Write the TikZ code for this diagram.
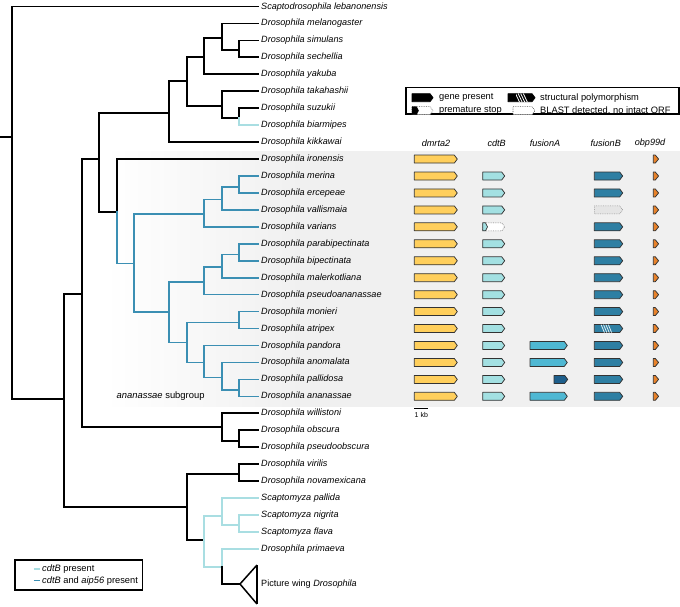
\documentclass[tikz,border=0pt]{standalone}
\usepackage{fontspec}
\setmainfont{Liberation Sans}
\definecolor{bandgray}{RGB}{240,240,240}
\definecolor{cY}{HTML}{FFCF5C}
\definecolor{cC}{HTML}{A3E0E2}
\definecolor{cFA}{HTML}{4FB8D3}
\definecolor{cFB}{HTML}{2E7FA3}
\definecolor{cFD}{HTML}{1E5F8C}
\definecolor{cO}{HTML}{E8822A}
\definecolor{trCy}{HTML}{A9DEE2}
\definecolor{trBl}{HTML}{3B8FB3}
\newcommand\garrow[5][]{%
  \path[garr,fill=#2,#1] (#3,{#5-4}) -- ({#4-3},{#5-4}) -- (#4,#5) -- ({#4-3},{#5+4}) -- (#3,{#5+4}) -- cycle;}
\begin{document}
\begin{tikzpicture}[x=1pt,y=-1pt,
  leaf/.style={anchor=west,inner xsep=3pt,inner ysep=0pt,text height=6.5pt,text depth=1.5pt,font=\fontsize{9.1}{10}\selectfont\itshape},
  hdr/.style={inner sep=0pt,font=\fontsize{9.1}{10}\selectfont\itshape},
  lg/.style={anchor=west,inner sep=0pt,font=\fontsize{9.3}{10}\selectfont},
  bk/.style={draw=black,line width=1.8pt,line cap=rect},
  cy/.style={draw=trCy,line width=1.6pt,line cap=rect},
  bl/.style={draw=trBl,line width=1.6pt,line cap=rect},
  garr/.style={draw=black!80,line width=0.75pt,line join=round}]
\useasboundingbox (0,0) rectangle (680,606);
% shaded band
\fill[left color=white,right color=bandgray] (105,151) rectangle (300.5,406.5);
\fill[bandgray] (300,151) rectangle (680,406.5);
% leaves
\foreach \n [count=\i from 0] in {Scaptodrosophila lebanonensis,Drosophila melanogaster,Drosophila simulans,Drosophila sechellia,Drosophila yakuba,Drosophila takahashii,Drosophila suzukii,Drosophila biarmipes,Drosophila kikkawai,Drosophila ironensis,Drosophila merina,Drosophila ercepeae,Drosophila vallismaia,Drosophila varians,Drosophila parabipectinata,Drosophila bipectinata,Drosophila malerkotliana,Drosophila pseudoananassae,Drosophila monieri,Drosophila atripex,Drosophila pandora,Drosophila anomalata,Drosophila pallidosa,Drosophila ananassae,Drosophila willistoni,Drosophila obscura,Drosophila pseudoobscura,Drosophila virilis,Drosophila novamexicana,Scaptomyza pallida,Scaptomyza nigrita,Scaptomyza flava,Drosophila primaeva}
  {\node[leaf] (l\i) at (258,{6.5+16.95*\i}) {\n};}
% internal nodes
\coordinate (rs) at (0,137);
\coordinate (root) at (12,137);
\coordinate (A) at (64,399);
\coordinate (B) at (82,294);
\coordinate (C) at (99,159);
\coordinate (D) at (169,112.7);
\coordinate (E) at (187,80.7);
\coordinate (F) at (204,56.7);
\coordinate (G) at (222,38.3);
\coordinate (H) at (239,50);
\coordinate (I) at (222,106);
\coordinate (J) at (239,117.7);
\coordinate (K) at (117,212);
\coordinate (L) at (134,263.3);
\coordinate (M) at (204,214);
\coordinate (N) at (222,199.3);
\coordinate (O) at (239,186.7);
\coordinate (P) at (169,311.7);
\coordinate (Q) at (204,281.7);
\coordinate (R) at (222,266.7);
\coordinate (S) at (239,254.3);
\coordinate (T) at (187,342.3);
\coordinate (U) at (239,322.3);
\coordinate (V) at (204,362.3);
\coordinate (W) at (222,377.3);
\coordinate (X) at (239,390);
\coordinate (Y) at (222,426.7);
\coordinate (Z) at (239,440.7);
\coordinate (AA) at (187,507);
\coordinate (AB) at (239,474);
\coordinate (AC) at (204,540);
\coordinate (AD) at (222,515.7);
\coordinate (AE) at (239,525);
\coordinate (AF) at (222,566.7);
\coordinate (apex) at (240,584);
\coordinate (tritop) at (257,565);
\coordinate (tribot) at (257,604);
% branches
\path[bk] (rs) -- (root);
\path[bk] (root) |- (l0.west);  \path[bk] (root) |- (A);
\path[bk] (A) |- (B);  \path[bk] (A) |- (AA);
\path[bk] (B) |- (C);  \path[bk] (B) |- (Y);
\path[bk] (C) |- (D);  \path[bk] (C) |- (K);
\path[bk] (D) |- (E);  \path[bk] (D) |- (l8.west);
\path[bk] (E) |- (F);  \path[bk] (E) |- (I);
\path[bk] (F) |- (G);  \path[bk] (F) |- (l4.west);
\path[bk] (G) |- (l1.west);  \path[bk] (G) |- (H);
\path[bk] (H) |- (l2.west);  \path[bk] (H) |- (l3.west);
\path[bk] (I) |- (l5.west);  \path[bk] (I) |- (J);
\path[bk] (J) |- (l6.west);  \path[cy] (J) |- (l7.west);
\path[bk] (K) |- (l9.west);  \path[bl] (K) |- (L);
\path[bl] (L) |- (M);  \path[bl] (L) |- (P);
\path[bl] (M) |- (N);  \path[bl] (M) |- (l13.west);
\path[bl] (N) |- (O);  \path[bl] (N) |- (l12.west);
\path[bl] (O) |- (l10.west);  \path[bl] (O) |- (l11.west);
\path[bl] (P) |- (Q);  \path[bl] (P) |- (T);
\path[bl] (Q) |- (R);  \path[bl] (Q) |- (l17.west);
\path[bl] (R) |- (S);  \path[bl] (R) |- (l16.west);
\path[bl] (S) |- (l14.west);  \path[bl] (S) |- (l15.west);
\path[bl] (T) |- (U);  \path[bl] (T) |- (V);
\path[bl] (U) |- (l18.west);  \path[bl] (U) |- (l19.west);
\path[bl] (V) |- (l20.west);  \path[bl] (V) |- (W);
\path[bl] (W) |- (l21.west);  \path[bl] (W) |- (X);
\path[bl] (X) |- (l22.west);  \path[bl] (X) |- (l23.west);
\path[bk] (Y) |- (l24.west);  \path[bk] (Y) |- (Z);
\path[bk] (Z) |- (l25.west);  \path[bk] (Z) |- (l26.west);
\path[bk] (AA) |- (AB);  \path[bk] (AA) |- (AC);
\path[bk] (AB) |- (l27.west);  \path[bk] (AB) |- (l28.west);
\path[cy] (AC) |- (AD);  \path[cy] (AC) |- (AF);
\path[cy] (AD) |- (l29.west);  \path[cy] (AD) |- (AE);
\path[cy] (AE) |- (l30.west);  \path[cy] (AE) |- (l31.west);
\path[cy] (AF) |- (l32.west);  \path[bk] (AF) |- (apex);
\draw[line width=1.5pt,line join=miter] (tritop) -- (apex) -- (tribot);
\draw[line width=1.5pt] (tritop) -- (tribot);
\node[leaf,font=\fontsize{9.1}{10}\selectfont] (pw) at (258,584) {Picture wing \textit{Drosophila}};
\node[anchor=west,inner sep=0pt,font=\fontsize{9.4}{10}\selectfont] (sub) at (116.5,396.3) {\textit{ananassae} subgroup};
% column headers
\node[hdr] (h1) at (436,143) {dmrta2};
\node[hdr] (h2) at (496.7,143) {cdtB};
\node[hdr] (h3) at (545,143) {fusionA};
\node[hdr] (h4) at (605.7,143) {fusionB};
\node[hdr] (h5) at (650,143) {obp99d};
% genes
\foreach \y in {159.05,176,192.95,209.9,226.85,243.8,260.75,277.7,294.65,311.6,328.55,345.5,362.45,379.4,396.35}{
  \garrow{cY}{414.3}{457.3}{\y}
  \path[garr,fill=cO] (653.3,{\y-4}) -- (655.3,{\y-4}) -- (658.6,\y) -- (655.3,{\y+4}) -- (653.3,{\y+4}) -- cycle;}
\foreach \y in {176,192.95,209.9,243.8,260.75,277.7,294.65,311.6,328.55,345.5,362.45,379.4,396.35}
  {\garrow{cC}{482.7}{504.7}{\y}}
\foreach \y in {176,192.95,226.85,243.8,260.75,277.7,294.65,311.6,328.55,345.5,362.45,379.4,396.35}
  {\garrow{cFB}{594.3}{622.7}{\y}}
\foreach \y in {345.5,362.45,396.35}
  {\garrow{cFA}{530}{567.3}{\y}}
\garrow{cFD}{554}{567.7}{379.4}
% varians cdtB premature stop
\garrow[draw=black!60,densely dotted,line width=0.55pt]{white}{482.7}{504.7}{226.85}
\path[garr,fill=cC] (482.7,222.85) -- (485.5,222.85) -- (487.5,226.85) -- (485.5,230.85) -- (482.7,230.85) -- cycle;
% vallismaia fusionB BLAST only
\garrow[draw=black!45,densely dotted,line width=0.55pt]{black!10}{594.3}{622.7}{209.9}
% atripex fusionB structural polymorphism
\begin{scope}
  \clip (594.3,324.55) -- (619.7,324.55) -- (622.7,328.55) -- (619.7,332.55) -- (594.3,332.55) -- cycle;
  \foreach \k in {0,1,2,3}{\draw[white!85!cFB,line width=0.8pt] ({601+2.4*\k},324.3) -- ({604.5+2.4*\k},332.8);}
\end{scope}
% scale bar
\draw[line width=1.4pt] (414.3,408.3) -- (428.3,408.3);
\node[inner sep=0pt,font=\fontsize{7}{8}\selectfont] (kb) at (421.3,414.5) {1 kb};
% top-right legend
\draw[line width=1.1pt,fill=white] (406,87.3) rectangle (679,114);
\garrow[draw=black]{black}{412}{433}{97.7}
\node[lg] (t1) at (439,97.7) {gene present};
\garrow[draw=black]{black}{508}{535}{97.7}
\begin{scope}
  \clip (516,93.2) rectangle (529,102.2);
  \foreach \k in {0,1,2,3}{\draw[white,line width=0.8pt] ({515.5+2.6*\k},93.5) -- ({519.5+2.6*\k},102);}
\end{scope}
\node[lg] (t2) at (540,97.7) {structural polymorphism};
\garrow[draw=black!70,densely dotted,line width=0.55pt]{white}{412}{433}{110.7}
\path[draw=black,fill=black] (412,106.7) -- (416.5,106.7) -- (418.5,110.7) -- (416.5,114.7) -- (412,114.7) -- cycle;
\node[lg] (t3) at (439,110.7) {premature stop};
\garrow[draw=black!70,densely dotted,line width=0.55pt]{white}{513}{535}{110.7}
\node[lg] (t4) at (540,110.7) {BLAST detected, no intact ORF};
% bottom-left legend
\draw[line width=1.1pt] (15,560) rectangle (142.7,590);
\coordinate (c1a) at (33.5,569); \coordinate (c1b) at (39.5,569);
\coordinate (c2a) at (33.5,580.7); \coordinate (c2b) at (39.5,580.7);
\draw[trCy,line width=1.5pt] (c1a) -- (c1b);
\draw[trBl,line width=1.5pt] (c2a) -- (c2b);
\node[lg,font=\fontsize{9.3}{10}\selectfont] (b1) at (42,569) {\textit{cdtB} present};
\node[lg,font=\fontsize{9.3}{10}\selectfont] (b2) at (42,580.7) {\textit{cdtB} and \textit{aip56} present};
\end{tikzpicture}
\end{document}
